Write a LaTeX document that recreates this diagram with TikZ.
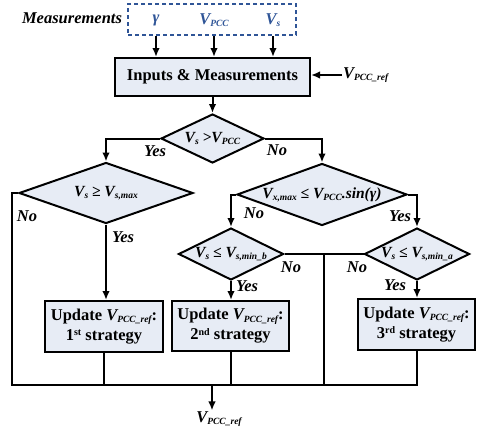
\documentclass[tikz,border=0pt]{standalone}
\usepackage{fontspec}
\setmainfont{Liberation Serif}
\usetikzlibrary{
    arrows.meta,
    shapes.geometric,
    positioning
}
\definecolor{boxfill}{RGB}{231,236,245}
\definecolor{measblue}{RGB}{47,85,151}
\newcommand{\lowtxt}[1]{\raisebox{-0.3ex}{\fontsize{9.5}{10}\selectfont #1}}
\newcommand{\hightxt}[1]{\raisebox{0.6ex}{\fontsize{10}{11}\selectfont #1}}

\begin{document}
\begin{tikzpicture}[x=1pt, y=-1pt, line width=2pt,
    >={Latex[length=9pt, width=7.5pt]},
    flowbox/.style={draw, fill=boxfill, inner sep=0pt, align=center,
        font=\fontsize{16.5}{20}\selectfont\bfseries},
    decision/.style={diamond, draw, fill=boxfill, inner sep=0pt},
    dtext/.style={font=\fontsize{15.5}{18}\selectfont\bfseries\itshape},
    lbl/.style={font=\fontsize{16.5}{18}\selectfont\bfseries\itshape, inner sep=0pt}]
                        \useasboundingbox (0, 0) rectangle (479, 434);

                        % measured quantities
                        \node[draw=measblue, dashed, dash pattern=on 4pt off 3pt,
                            minimum width=168pt, minimum height=31pt] (sensors) at (212, 19.5) {};
                        \node[lbl, anchor=east] (meas) at (123, 18) {Measurements};
                        \node[lbl, text=measblue] (gam) at (156, 20) {γ};
                        \node[lbl, text=measblue] (vpcc) at (214, 20) {V\lowtxt{PCC}};
                        \node[lbl, text=measblue] (vs) at (273, 20) {V\lowtxt{s}};

                        \node[flowbox, minimum width=195pt, minimum height=38pt] (inputs) at (212.5, 77) {Inputs \& Measurements};
                        \node[lbl, anchor=west] (vrefin) at (342, 75) {V\lowtxt{PCC\_ref}};

                        % decisions
                        \node[decision, minimum width=103pt, minimum height=49pt,
                            label={[dtext]center:V\lowtxt{s} >V\lowtxt{PCC}}] (d1) at (212.5, 138.5) {};
                        \node[decision, minimum width=174pt, minimum height=61pt,
                            label={[dtext]center:V\lowtxt{s} ≥ V\lowtxt{s,max}}] (d2) at (106, 193) {};
                        \node[decision, minimum width=170pt, minimum height=62pt,
                            label={[dtext]center:V\lowtxt{x,max} ≤ V\lowtxt{PCC}.sin(γ)}] (d3) at (322, 194.5) {};
                        \node[decision, minimum width=105pt, minimum height=52pt,
                            label={[dtext]center:V\lowtxt{s} ≤ V\lowtxt{s,min\_b}}] (db) at (231, 254) {};
                        \node[decision, minimum width=105pt, minimum height=52pt,
                            label={[dtext]center:V\lowtxt{s} ≤ V\lowtxt{s,min\_a}}] (da) at (417, 254) {};

                        % strategies
                        \node[flowbox, minimum width=118pt, minimum height=51pt] (box1) at (104, 326.5)
                            {Update \textit{V\lowtxt{PCC\_ref}}:\\1\hightxt{st} strategy};
                        \node[flowbox, minimum width=117pt, minimum height=50pt] (box2) at (230.5, 326)
                            {Update \textit{V\lowtxt{PCC\_ref}}:\\2\hightxt{nd} strategy};
                        \node[flowbox, minimum width=117pt, minimum height=51pt] (box3) at (416.5, 324.5)
                            {Update \textit{V\lowtxt{PCC\_ref}}:\\3\hightxt{rd} strategy};

                        \node[lbl] (vout) at (219, 419) {V\lowtxt{PCC\_ref}};

                        \coordinate (busL) at (12, 385);
                        \coordinate (busR) at (416.5, 385);
                        \coordinate (busM) at (212, 385);
                        \coordinate (mid) at (324, 254);

                        \draw
                        (gam |- sensors.south) edge[->] (gam |- inputs.north)
                        (vpcc |- sensors.south) edge[->] (vpcc |- inputs.north)
                        (vs |- sensors.south) edge[->] (vs |- inputs.north)
                        (vrefin.west) edge[->] (inputs.east |- vrefin.west);

                        \draw[->] (inputs.south) -- (d1.north);
                        \draw[->] (d1.west) -| (d2.north);
                        \draw[->] (d1.east) -| (d3.north);
                        \draw[->] (d2.south) -- (d2.south |- box1.north);
                        \draw[->] (d3.west) -| (db.north);
                        \draw[->] (d3.east) -| (da.north);
                        \draw[->] (db.south) -- (db.south |- box2.north);
                        \draw[->] (da.south) -- (da.south |- box3.north);

                        \draw (d2.west) -| (busL) -- (busR) -- (box3.south);
                        \draw (db.east) -- (da.west);
                        \draw (mid) -- (mid |- busL);
                        \draw (box1.south) -- (box1.south |- busL);
                        \draw (box2.south) -- (box2.south |- busL);
                        \draw[->] (busM) -- (busM |- vout.north);

                        % branch labels
                        \node[lbl] (yes1) at (155, 151) {Yes};
                        \node[lbl] (no1) at (277, 150) {No};
                        \node[lbl] (no2) at (27, 216) {No};
                        \node[lbl] (yes2) at (123, 237) {Yes};
                        \node[lbl] (no3) at (254, 213) {No};
                        \node[lbl] (yes3) at (400, 216) {Yes};
                        \node[lbl] (no4) at (291, 267) {No};
                        \node[lbl] (no5) at (357, 267) {No};
                        \node[lbl] (yes4) at (247, 286) {Yes};
                        \node[lbl] (yes5) at (395, 285) {Yes};
                    \end{tikzpicture}
\end{document}
